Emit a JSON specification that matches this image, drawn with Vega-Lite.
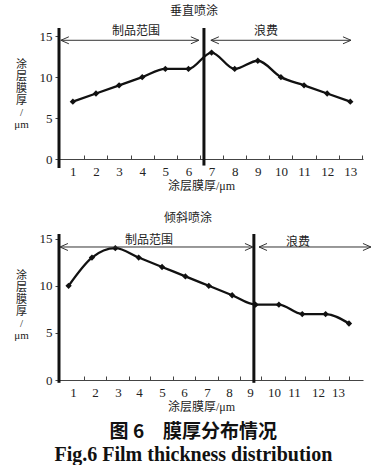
{
  "$schema": "https://vega.github.io/schema/vega-lite/v6.json",
  "padding": {"left": 13, "top": 5, "right": 0, "bottom": 0},
  "config": {
    "view": {"stroke": null},
    "font": "Liberation Serif, Noto Sans CJK SC",
    "axis": {"grid": false, "labelFont": "Liberation Serif", "labelFontSize": 13, "labelColor": "#222", "tickColor": "#444", "domainColor": "#444", "titleFont": "Liberation Serif, Noto Sans CJK SC", "titleFontWeight": "normal", "titleColor": "#222", "labelOverlap": false, "labelBound": false},
    "title": {"subtitleFont": "Liberation Serif", "subtitleFontSize": 20, "subtitleFontWeight": "bold", "subtitleColor": "#111"}
  },
  "datasets": {
    "top": [
      {"x": 1, "y": 7}, {"x": 2, "y": 8}, {"x": 3, "y": 9}, {"x": 4, "y": 10}, {"x": 5, "y": 11}, {"x": 6, "y": 11}, {"x": 7, "y": 13},
      {"x": 8, "y": 11}, {"x": 9, "y": 12}, {"x": 10, "y": 10}, {"x": 11, "y": 9}, {"x": 12, "y": 8}, {"x": 13, "y": 7}
    ],
    "bottom": [
      {"x": 1, "y": 10}, {"x": 2, "y": 13}, {"x": 3, "y": 14}, {"x": 4, "y": 13}, {"x": 5, "y": 12}, {"x": 6, "y": 11}, {"x": 7, "y": 10},
      {"x": 8, "y": 9}, {"x": 9, "y": 8}, {"x": 10, "y": 8}, {"x": 11, "y": 7}, {"x": 12, "y": 7}, {"x": 13, "y": 6}
    ],
    "topBounds": [{"x": 0.4, "y": -1.1, "y2": 16}, {"x": 6.67, "y": -0.8, "y2": 16}],
    "bottomBounds": [{"x": 0.59, "y": -0.3, "y2": 15.5}, {"x": 8.93, "y": -0.3, "y2": 15.5}],
    "topArrows": [{"x1": 0.48, "x2": 6.45, "y": 14.5}, {"x1": 6.97, "x2": 13.03, "y": 14.5}],
    "topHeads": [{"x": 0.48, "y": 14.5, "dir": "L"}, {"x": 6.45, "y": 14.5, "dir": "R"}, {"x": 6.97, "y": 14.5, "dir": "L"}, {"x": 13.03, "y": 14.5, "dir": "R"}],
    "topLabels": [{"x": 3.73, "y": 15.6, "label": "制品范围"}, {"x": 9.35, "y": 15.6, "label": "浪费"}],
    "bottomArrows": [{"x1": 0.63, "x2": 8.89, "y": 14.12}, {"x1": 9.15, "x2": 13.94, "y": 14.12}],
    "bottomHeads": [{"x": 0.63, "y": 14.12, "dir": "L"}, {"x": 8.89, "y": 14.12, "dir": "R"}, {"x": 9.15, "y": 14.12, "dir": "L"}, {"x": 13.94, "y": 14.12, "dir": "R"}],
    "bottomLabels": [{"x": 4.44, "y": 14.86, "label": "制品范围"}, {"x": 10.82, "y": 14.6, "label": "浪费"}]
  },
  "spacing": 20,
  "title": {
    "text": "图 6　膜厚分布情况",
    "subtitle": "Fig.6    Film thickness distribution",
    "orient": "bottom",
    "anchor": "middle",
    "offset": 11,
    "dx": 0,
    "font": "Noto Sans CJK SC",
    "fontSize": 19,
    "fontWeight": "bold",
    "color": "#111",
    "subtitleFont": "Liberation Serif",
    "subtitleFontSize": 20,
    "subtitleFontWeight": "bold",
    "subtitleColor": "#111",
    "subtitlePadding": 3
  },
  "vconcat": [
    {
      "width": 304,
      "height": 131,
      "title": {"text": "垂直喷涂", "font": "Noto Sans CJK SC", "fontSize": 12, "fontWeight": "normal", "color": "#222", "offset": 7, "dx": -17},
      "layer": [
        {
          "data": {"name": "top"},
          "mark": {"type": "line", "color": "#111", "strokeWidth": 2.3, "interpolate": "monotone"},
          "encoding": {
            "x": {"field": "x", "type": "quantitative", "scale": {"domain": [0.4, 13.55], "nice": false, "zero": false},
              "axis": {"values": [1,2,3,4,5,6,7,8,9,10,11,12,13], "format": "d", "tickCount": 30, "labelOverlap": false, "labelFlush": false, "tickOffset": 11.5, "labelOffset": -11.5, "tickSize": -4, "labelPadding": 10, "title": "涂层膜厚/μm", "titleFontSize": 12, "titlePadding": 2, "titleX": 142}},
            "y": {"field": "y", "type": "quantitative", "scale": {"domain": [0, 16], "nice": false},
              "axis": {"values": [0, 5, 10, 15], "domain": false, "tickSize": 4, "labelPadding": 3, "title": ["涂", "层", "膜", "厚", "/", "μm"], "titleAngle": 0, "titleAlign": "center", "titleBaseline": "top", "titleX": -38, "titleY": 30, "titleFontSize": 11, "titleLineHeight": 12}}
          }
        },
        {
          "data": {"name": "top"},
          "mark": {"type": "point", "shape": "diamond", "filled": true, "color": "#111", "size": 40, "opacity": 1},
          "encoding": {
            "x": {"field": "x", "type": "quantitative", "scale": {"domain": [0.4, 13.55], "nice": false, "zero": false}},
            "y": {"field": "y", "type": "quantitative", "scale": {"domain": [0, 16], "nice": false}}
          }
        },
        {
          "data": {"name": "topBounds"},
          "mark": {"type": "rule", "color": "#111", "strokeWidth": 3},
          "encoding": {
            "x": {"field": "x", "type": "quantitative", "scale": {"domain": [0.4, 13.55], "nice": false, "zero": false}},
            "y": {"field": "y", "type": "quantitative", "scale": {"domain": [0, 16], "nice": false}},
            "y2": {"field": "y2"}
          }
        },
        {
          "data": {"name": "topArrows"},
          "mark": {"type": "rule", "color": "#333", "strokeWidth": 1},
          "encoding": {
            "x": {"field": "x1", "type": "quantitative", "scale": {"domain": [0.4, 13.55], "nice": false, "zero": false}},
            "x2": {"field": "x2"},
            "y": {"field": "y", "type": "quantitative", "scale": {"domain": [0, 16], "nice": false}}
          }
        },
        {
          "data": {"name": "topHeads"},
          "mark": {"type": "point", "filled": false, "color": "#333", "strokeWidth": 1, "size": 100, "opacity": 1},
          "encoding": {
            "x": {"field": "x", "type": "quantitative", "scale": {"domain": [0.4, 13.55], "nice": false, "zero": false}},
            "y": {"field": "y", "type": "quantitative", "scale": {"domain": [0, 16], "nice": false}},
            "shape": {"field": "dir", "type": "nominal", "scale": {"domain": ["L", "R"], "range": ["M1.6,-0.7L0,0L1.6,0.7", "M-1.6,-0.7L0,0L-1.6,0.7"]}, "legend": null}
          }
        },
        {
          "data": {"name": "topLabels"},
          "mark": {"type": "text", "font": "Noto Sans CJK SC", "fontSize": 12, "color": "#222", "baseline": "middle"},
          "encoding": {
            "x": {"field": "x", "type": "quantitative", "scale": {"domain": [0.4, 13.55], "nice": false, "zero": false}},
            "y": {"field": "y", "type": "quantitative", "scale": {"domain": [0, 16], "nice": false}},
            "text": {"field": "label"}
          }
        }
      ]
    },
    {
      "width": 304,
      "height": 146,
      "title": {"text": "倾斜喷涂", "font": "Noto Sans CJK SC", "fontSize": 12, "fontWeight": "normal", "color": "#222", "offset": 8, "dx": -23},
      "layer": [
        {
          "data": {"name": "bottom"},
          "mark": {"type": "line", "color": "#111", "strokeWidth": 2.3, "interpolate": "monotone"},
          "encoding": {
            "x": {"field": "x", "type": "quantitative", "scale": {"domain": [0.59, 13.6], "nice": false, "zero": false},
              "axis": {"values": [1.19, 2.13, 3.11, 4.01, 5.0, 5.94, 6.92, 7.86, 8.76, 9.79, 10.65, 11.67, 12.53], "tickCount": 30, "labelOverlap": false, "labelFlush": false, "labelExpr": "format(round(datum.value), 'd')", "tickOffset": 11, "labelOffset": -11, "tickSize": -4, "labelPadding": 10, "title": "涂层膜厚/μm", "titleFontSize": 12, "titlePadding": 2, "titleX": 142}},
            "y": {"field": "y", "type": "quantitative", "scale": {"domain": [0, 15.5], "nice": false},
              "axis": {"values": [0, 5, 10, 15], "domain": false, "tickSize": 4, "labelPadding": 3, "title": ["涂", "层", "膜", "厚", "/", "μm"], "titleAngle": 0, "titleAlign": "center", "titleBaseline": "top", "titleX": -38, "titleY": 35, "titleFontSize": 11, "titleLineHeight": 12}}
          }
        },
        {
          "data": {"name": "bottom"},
          "mark": {"type": "point", "shape": "diamond", "filled": true, "color": "#111", "size": 40, "opacity": 1},
          "encoding": {
            "x": {"field": "x", "type": "quantitative", "scale": {"domain": [0.59, 13.6], "nice": false, "zero": false}},
            "y": {"field": "y", "type": "quantitative", "scale": {"domain": [0, 15.5], "nice": false}}
          }
        },
        {
          "data": {"name": "bottomBounds"},
          "mark": {"type": "rule", "color": "#111", "strokeWidth": 3},
          "encoding": {
            "x": {"field": "x", "type": "quantitative", "scale": {"domain": [0.59, 13.6], "nice": false, "zero": false}},
            "y": {"field": "y", "type": "quantitative", "scale": {"domain": [0, 15.5], "nice": false}},
            "y2": {"field": "y2"}
          }
        },
        {
          "data": {"name": "bottomArrows"},
          "mark": {"type": "rule", "color": "#333", "strokeWidth": 1},
          "encoding": {
            "x": {"field": "x1", "type": "quantitative", "scale": {"domain": [0.59, 13.6], "nice": false, "zero": false}},
            "x2": {"field": "x2"},
            "y": {"field": "y", "type": "quantitative", "scale": {"domain": [0, 15.5], "nice": false}}
          }
        },
        {
          "data": {"name": "bottomHeads"},
          "mark": {"type": "point", "filled": false, "color": "#333", "strokeWidth": 1, "size": 100, "opacity": 1},
          "encoding": {
            "x": {"field": "x", "type": "quantitative", "scale": {"domain": [0.59, 13.6], "nice": false, "zero": false}},
            "y": {"field": "y", "type": "quantitative", "scale": {"domain": [0, 15.5], "nice": false}},
            "shape": {"field": "dir", "type": "nominal", "scale": {"domain": ["L", "R"], "range": ["M1.6,-0.7L0,0L1.6,0.7", "M-1.6,-0.7L0,0L-1.6,0.7"]}, "legend": null}
          }
        },
        {
          "data": {"name": "bottomLabels"},
          "mark": {"type": "text", "font": "Noto Sans CJK SC", "fontSize": 12, "color": "#222", "baseline": "middle"},
          "encoding": {
            "x": {"field": "x", "type": "quantitative", "scale": {"domain": [0.59, 13.6], "nice": false, "zero": false}},
            "y": {"field": "y", "type": "quantitative", "scale": {"domain": [0, 15.5], "nice": false}},
            "text": {"field": "label"}
          }
        }
      ]
    }
  ]
}
